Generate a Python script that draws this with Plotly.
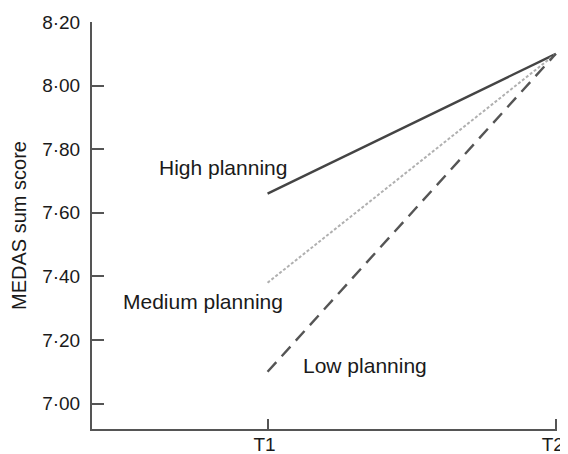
import plotly.graph_objects as go

times = ["T1", "T2"]
x_pos = [0, 1]
high = [7.66, 8.10]
medium = [7.38, 8.10]
low = [7.10, 8.10]
y_ticks = [7.00, 7.20, 7.40, 7.60, 7.80, 8.00, 8.20]
y_tick_labels = ["7·00", "7·20", "7·40", "7·60", "7·80", "8·00", "8·20"]

fig = go.Figure()
fig.add_trace(go.Scatter(x=x_pos, y=high, mode="lines", cliponaxis=False,
                         line=dict(color="#444444", width=2.4, dash="solid")))
fig.add_trace(go.Scatter(x=x_pos, y=medium, mode="lines", cliponaxis=False,
                         line=dict(color="#b0b0b0", width=2, dash="3px,2px")))
fig.add_trace(go.Scatter(x=x_pos, y=low, mode="lines", cliponaxis=False,
                         line=dict(color="#555555", width=2.4, dash="13px,8px")))

font = dict(family="Liberation Sans, Arial, sans-serif", size=20, color="#1a1a1a")
ann_font = dict(family="Liberation Sans, Arial, sans-serif", size=21, color="#1a1a1a")
tick_font = dict(family="Liberation Sans, Arial, sans-serif", size=19, color="#1a1a1a")
for text, xx, yy in [("High planning", -0.156, 7.741),
                     ("Medium planning", -0.223, 7.320),
                     ("Low planning", 0.339, 7.121)]:
    fig.add_annotation(x=xx, y=yy, text=text, showarrow=False, font=ann_font,
                       xref="x", yref="y")

# page has an 8px body margin, so the figure is 8px smaller than the window
fig.update_layout(
    width=560, height=446,
    margin=dict(l=84, r=11, t=14, b=25),
    plot_bgcolor="white", paper_bgcolor="white",
    showlegend=False,
    font=font,
)
fig.update_xaxes(range=[-0.609, 1.004], tickvals=x_pos, ticktext=times,
                 showgrid=False, zeroline=False, showline=True,
                 linecolor="#555555", linewidth=2, automargin=False,
                 ticks="inside", ticklen=10, tickwidth=2, tickcolor="#555555",
                 tickfont=tick_font, ticklabeloverflow="allow",
                 ticklabelstandoff=-3, ticklabelshift=-3)
fig.update_yaxes(range=[6.92, 8.20], tickvals=y_ticks, ticktext=y_tick_labels,
                 showgrid=False, zeroline=False, showline=True,
                 linecolor="#555555", linewidth=2, automargin=False,
                 ticks="inside", ticklen=12, tickwidth=2, tickcolor="#555555",
                 tickfont=tick_font, ticklabelstandoff=6,
                 title=dict(text="MEDAS sum score", font=font, standoff=12))

fig.write_html("out.html")
